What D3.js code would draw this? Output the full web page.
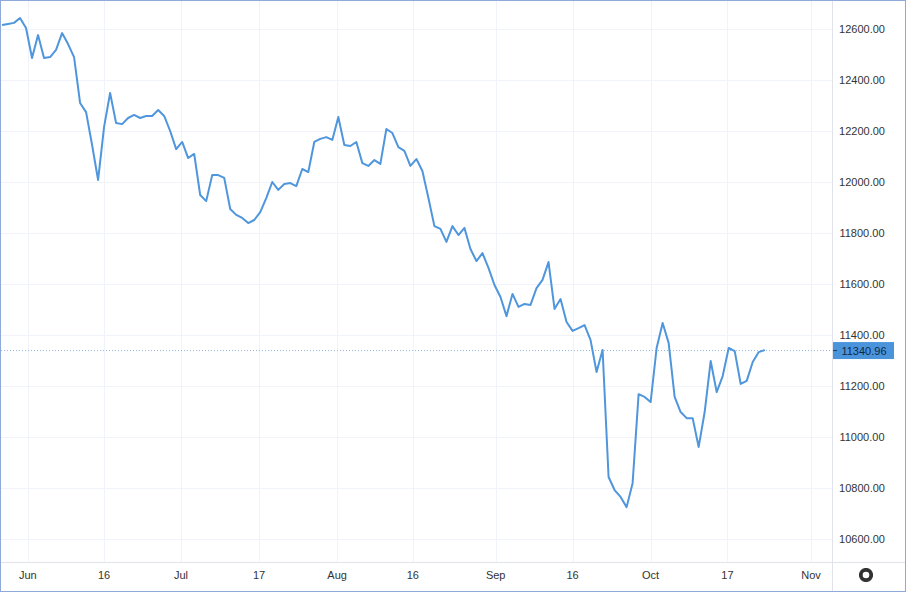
<!DOCTYPE html>
<html><head><meta charset="utf-8">
<script src="https://cdn.jsdelivr.net/npm/d3@7"></script>
<style>body{margin:0;background:#fff}svg{display:block;font-family:"Liberation Sans",Arial,sans-serif}</style>
</head><body><svg id="c" width="906" height="592"></svg>
<script>
const values = [12616,12620,12624,12643,12604,12486,12576,12486,12490,12518,12584,12541,12490,12310,12274,12145,12008,12216,12349,12231,12227,12251,12263,12251,12259,12259,12282,12259,12200,12129,12157,12094,12110,11949,11925,12027,12027,12016,11894,11871,11859,11839,11851,11882,11937,12000,11969,11992,11996,11984,12051,12039,12157,12169,12176,12165,12255,12145,12141,12157,12074,12063,12086,12071,12208,12192,12137,12122,12063,12090,12043,11937,11827,11816,11765,11827,11792,11820,11737,11690,11721,11663,11596,11549,11474,11561,11510,11522,11518,11584,11616,11686,11502,11541,11451,11416,11427,11439,11380,11255,11341,10843,10792,10765,10725,10819,11168,11157,11137,11349,11447,11369,11157,11098,11074,11074,10961,11098,11298,11176,11239,11349,11337,11208,11220,11294,11333,11340.96];
const xTickLabels = ["Jun","16","Jul","17","Aug","16","Sep","16","Oct","17","Nov"];
const xTickPos = [4.3,17.0,29.8,42.8,55.8,68.4,82.2,95.0,108.0,120.8,134.7];
const yTicks = [10600,10800,11000,11200,11400,11600,11800,12000,12200,12400,12600];
const lastValue = 11340.96;

const svg = d3.select("#c");
const L=1, R=832, T=1, B=562;
const x = d3.scaleLinear().domain([0,138.2]).range([2,832]);
const y = d3.scaleLinear().domain([10600,12600]).range([539,29]);

// grid
svg.append("g").selectAll("line").data(yTicks).join("line")
  .attr("x1",L).attr("x2",R).attr("y1",d=>y(d)+.5).attr("y2",d=>y(d)+.5)
  .attr("stroke","#f0f3fa");
svg.append("g").selectAll("line").data(xTickPos).join("line")
  .attr("y1",T).attr("y2",B).attr("x1",d=>Math.round(x(d))+.5).attr("x2",d=>Math.round(x(d))+.5)
  .attr("stroke","#f0f3fa");

// axes separators
svg.append("line").attr("x1",R+.5).attr("x2",R+.5).attr("y1",0).attr("y2",592).attr("stroke","#e0e3eb");
svg.append("line").attr("x1",0).attr("x2",906).attr("y1",B+.5).attr("y2",B+.5).attr("stroke","#e0e3eb");

// last-value dotted line
svg.append("line").attr("x1",L).attr("x2",R).attr("y1",y(lastValue)+.5).attr("y2",y(lastValue)+.5)
  .attr("stroke","#8fb7e3").attr("stroke-dasharray","1,2");

// line
svg.append("path").datum(values)
  .attr("d",d3.line().x((d,i)=>x(i)).y(d=>y(d)))
  .attr("fill","none").attr("stroke","#4f96dc").attr("stroke-width",2).attr("stroke-linejoin","round");

// y labels
svg.append("g").selectAll("text").data(yTicks).join("text")
  .attr("x",862).attr("y",d=>y(d)+4).attr("text-anchor","middle")
  .attr("font-size",11).attr("fill","#333").text(d=>d.toFixed(2));
// x labels
svg.append("g").selectAll("text").data(xTickPos).join("text")
  .attr("x",d=>x(d)).attr("y",579).attr("text-anchor","middle")
  .attr("font-size",11).attr("fill","#333").text((d,i)=>xTickLabels[i]);

// last value tag
const ly=y(lastValue);
svg.append("rect").attr("x",833).attr("y",ly-8).attr("width",61).attr("height",17).attr("fill","#4a94dc");
svg.append("line").attr("x1",833).attr("x2",837).attr("y1",ly+.5).attr("y2",ly+.5).attr("stroke","#1c3f66");
svg.append("text").attr("x",864).attr("y",ly+4.5).attr("text-anchor","middle").attr("font-size",11).attr("fill","#102a45").text(lastValue.toFixed(2));

// gear icon
const g = svg.append("g").attr("transform","translate(866,575)");
const teeth = d3.range(8);
g.selectAll("rect").data(teeth).join("rect").attr("x",-1.5).attr("y",-7).attr("width",3).attr("height",14)
  .attr("fill","#333").attr("transform",d=>`rotate(${d*45/2*2/2})`);
g.append("circle").attr("r",5).attr("fill","#333");
g.append("circle").attr("r",3.3).attr("fill","#fff");

// outer border
svg.append("rect").attr("x",.5).attr("y",.5).attr("width",905).attr("height",591).attr("fill","none").attr("stroke","#8eaadb");
</script></body></html>
